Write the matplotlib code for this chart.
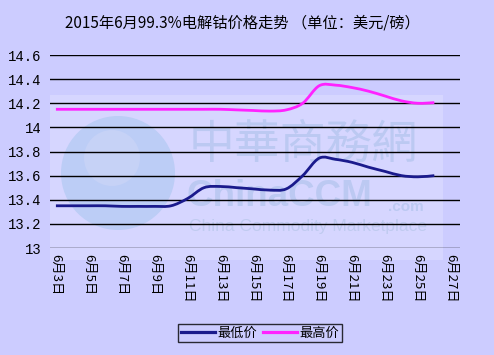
import matplotlib
matplotlib.use("Agg")
import matplotlib.pyplot as plt
from matplotlib.path import Path
from matplotlib.patches import PathPatch, Rectangle, Circle
from matplotlib.lines import Line2D

plt.rcParams['font.family'] = ['Noto Sans CJK SC', 'DejaVu Sans']

# datos (día de junio)
dias = [3, 4, 5, 6, 7, 8, 9, 10, 11, 12, 13, 14, 15, 16, 17, 18, 19, 20, 21, 22, 23, 24, 25, 26]
precio_min = [13.35, 13.35, 13.35, 13.35, 13.345, 13.345, 13.345, 13.35, 13.41, 13.50, 13.51, 13.50,
              13.49, 13.48, 13.49, 13.60, 13.745, 13.735, 13.71, 13.67, 13.635, 13.60, 13.59, 13.60]
precio_max = [14.15, 14.15, 14.15, 14.15, 14.15, 14.15, 14.15, 14.15, 14.15, 14.15, 14.15, 14.145,
              14.14, 14.135, 14.145, 14.20, 14.345, 14.35, 14.33, 14.30, 14.26, 14.22, 14.20, 14.205]
dias_ticks = [3, 5, 7, 9, 11, 13, 15, 17, 19, 21, 23, 25, 27]
etiquetas_x = [f"6月{d}日" for d in dias_ticks]
y_ticks = [13, 13.2, 13.4, 13.6, 13.8, 14, 14.2, 14.4, 14.6]
y_labels = ["13", "13.2", "13.4", "13.6", "13.8", "14", "14.2", "14.4", "14.6"]

fondo = "#CCCCFF"
fig = plt.figure(figsize=(4.94, 3.55), dpi=100, facecolor=fondo)

# capa de marca de agua en coordenadas de píxel
wm = fig.add_axes([0, 0, 1, 1], zorder=0)
wm.set_xlim(0, 494)
wm.set_ylim(355, 0)
wm.axis("off")
wm.add_patch(Rectangle((50, 95), 393, 165, facecolor="#D6D6FF", edgecolor="none"))
wm.add_patch(Circle((118, 173), 57, facecolor="#BCCDF6", edgecolor="none"))
wm.add_patch(Circle((112, 158), 28, facecolor="#C6D2F6", edgecolor="none"))
marca = "#BCC9F2"
wm.text(303, 145, "中華商務網", fontsize=33, color=marca, ha="center", va="center")
wm.text(186, 197, "ChinaCCM", fontsize=26.5, color=marca, ha="left", va="center",
        fontweight="bold", family="Liberation Sans")
wm.text(388, 207, ".com", fontsize=11, color=marca, ha="left", va="center",
        fontweight="bold", family="Liberation Sans")
wm.text(308, 227, "China Commodity Marketplace", fontsize=12.5, color="#C0CBF0",
        ha="center", va="center", family="Liberation Sans")

ax = fig.add_axes([50 / 494, 1 - 248 / 355, 410 / 494, 193 / 355], zorder=1)
ax.patch.set_visible(False)
ax.set_xlim(2.64, 27.56)
ax.set_ylim(13, 14.6)
for s in ax.spines.values():
    s.set_visible(False)
for v in y_ticks:
    ax.axhline(v, color="black", lw=1, zorder=1)


def curva(x, y):
    # curva suavizada (Catmull-Rom con tensión 1/6, como Excel)
    pts = list(zip(x, y))
    verts = [pts[0]]
    codes = [Path.MOVETO]
    n = len(pts)
    for i in range(n - 1):
        p0 = pts[i - 1] if i > 0 else pts[i]
        p1 = pts[i]
        p2 = pts[i + 1]
        p3 = pts[i + 2] if i + 2 < n else pts[i + 1]
        c1 = (p1[0] + (p2[0] - p0[0]) / 6, p1[1] + (p2[1] - p0[1]) / 6)
        c2 = (p2[0] - (p3[0] - p1[0]) / 6, p2[1] - (p3[1] - p1[1]) / 6)
        verts += [c1, c2, p2]
        codes += [Path.CURVE4] * 3
    return Path(verts, codes)


ax.add_patch(PathPatch(curva(dias, precio_min), fill=False, edgecolor="#1A1A8C", lw=2.0, zorder=3))
ax.add_patch(PathPatch(curva(dias, precio_max), fill=False, edgecolor="#FF22FF", lw=2.0, zorder=3))

ax.set_yticks(y_ticks)
ax.set_yticklabels(y_labels, family=["Liberation Mono", "Noto Sans CJK SC"], fontsize=10)
ax.set_xticks(dias_ticks)
ax.set_xticklabels(etiquetas_x, rotation=-90, fontsize=9.5, va="top", ha="center")
ax.tick_params(length=0, pad=6)
ax.tick_params(axis="x", pad=4)

fig.text(0.49, 0.936, "2015年6月99.3%电解钴价格走势 （单位：美元/磅）", ha="center", va="center",
         fontsize=11)

leyenda = [Line2D([0], [0], color="#1A1A8C", lw=2.3, label="最低价"),
           Line2D([0], [0], color="#FF22FF", lw=2.3, label="最高价")]
fig.legend(handles=leyenda, loc="center", bbox_to_anchor=(260 / 494, 1 - 333 / 355), ncol=2,
           frameon=True, fancybox=False, edgecolor="black", facecolor=fondo, fontsize=9.5,
           handlelength=2.6, handletextpad=0.2, columnspacing=0.4, borderpad=0.2,
           borderaxespad=0)

fig.savefig("out.png", dpi=100, facecolor=fondo)
